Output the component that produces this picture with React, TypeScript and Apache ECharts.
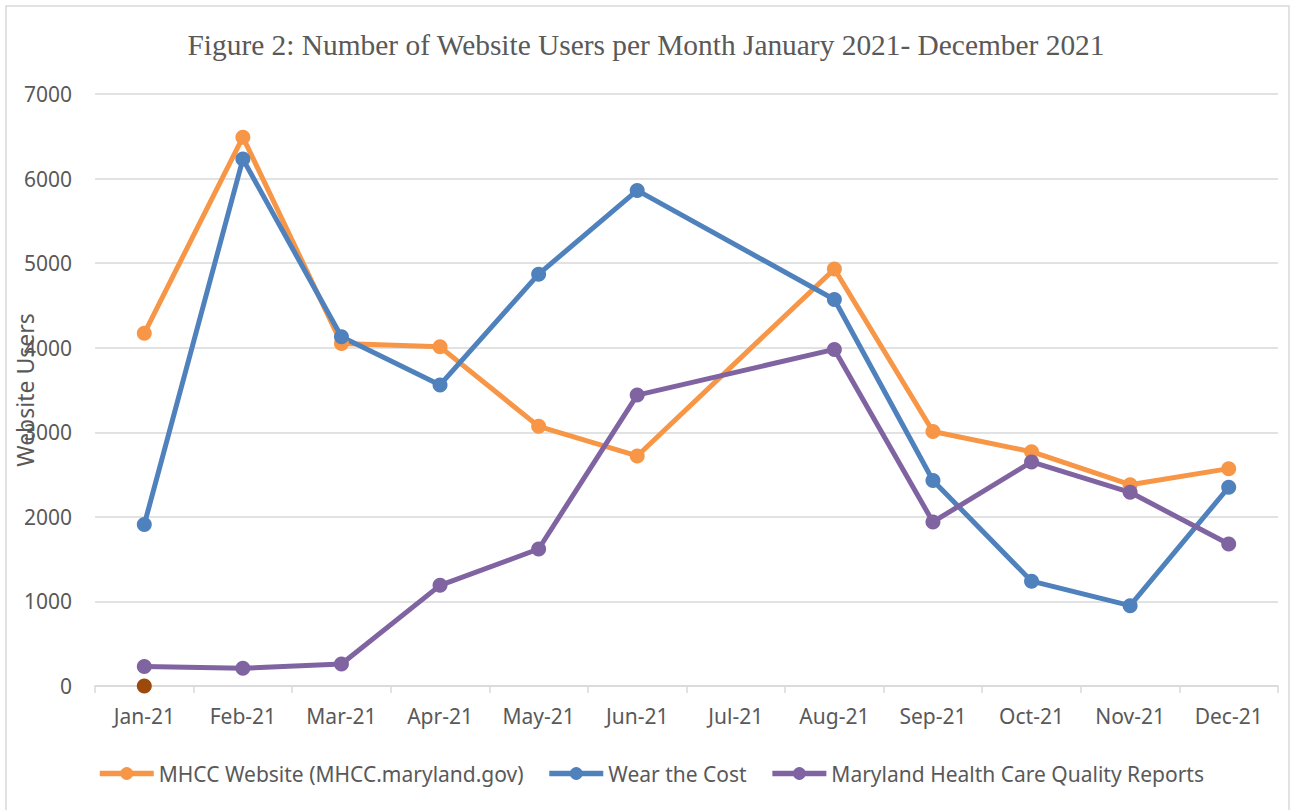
import React, { useEffect, useRef } from "react";
import * as echarts from "echarts";

const categories = ["Jan-21", "Feb-21", "Mar-21", "Apr-21", "May-21", "Jun-21", "Jul-21", "Aug-21", "Sep-21", "Oct-21", "Nov-21", "Dec-21"];
const mhccWebsite = [4170, 6490, 4050, 4010, 3070, 2720, null, 4930, 3010, 2770, 2380, 2570];
const wearTheCost = [1910, 6230, 4130, 3560, 4870, 5860, null, 4570, 2430, 1240, 950, 2350];
const qualityReports = [230, 210, 260, 1190, 1620, 3440, null, 3980, 1940, 2650, 2290, 1680];
const series4 = [0, null, null, null, null, null, null, null, null, null, null, null];
const yTicks = { min: 0, max: 7000, interval: 1000 };

const titleText = "Figure 2: Number of Website Users per Month January 2021- December 2021";
const names = ["MHCC Website (MHCC.maryland.gov)", "Wear the Cost", "Maryland Health Care Quality Reports"];
const colors = ["#F79646", "#4F81BD", "#8064A2"];

const FONT = "Noto Sans";
const GREY = "#595959";

export default function App() {
  const ref = useRef<HTMLDivElement>(null);
  useEffect(() => {
    if (!ref.current) return;
    const chart = echarts.init(ref.current, null, { renderer: "svg" });
    const mk = (name: string, data: (number | null)[], color: string) => ({
      name,
      type: "line",
      data,
      connectNulls: true,
      symbol: "circle",
      symbolSize: 15,
      lineStyle: { color, width: 5 },
      itemStyle: { color },
      emphasis: { disabled: true },
    });
    chart.setOption({
      animation: false,
      backgroundColor: "#ffffff",
      textStyle: { fontFamily: FONT },
      title: {
        text: titleText,
        left: "center",
        top: 25,
        textStyle: { fontFamily: "Liberation Serif", fontSize: 29.4, fontWeight: "normal", color: GREY },
      },
      graphic: [
        {
          type: "rect",
          shape: { x: 6, y: 6, width: 1283, height: 830 },
          style: { fill: "none", stroke: "#d9d9d9", lineWidth: 1.5 },
          silent: true,
        },
      ],
      grid: { left: 95, right: 14, top: 94, bottom: 124, containLabel: false, outerBoundsMode: "none" },
      legend: {
        data: names,
        bottom: 26,
        left: 97,
        padding: 0,
        itemWidth: 54,
        itemHeight: 16,
        itemGap: 23,
        lineStyle: { width: 5.5 },
        textStyle: { fontFamily: FONT, fontSize: 21, color: GREY },
      },
      xAxis: {
        type: "category",
        data: categories,
        boundaryGap: true,
        axisLine: { lineStyle: { color: "#d9d9d9", width: 1.5 } },
        axisTick: { show: true, length: 7, lineStyle: { color: "#d9d9d9", width: 1.5 } },
        axisLabel: { fontFamily: FONT, fontSize: 21, color: GREY, margin: 19 },
      },
      yAxis: {
        type: "value",
        min: yTicks.min,
        max: yTicks.max,
        interval: yTicks.interval,
        name: "Website Users",
        nameLocation: "middle",
        nameGap: 59,
        nameMoveOverlap: false,
        nameTextStyle: { fontFamily: FONT, fontSize: 23, color: GREY },
        axisLine: { show: false },
        axisTick: { show: false },
        axisLabel: { fontFamily: FONT, fontSize: 21, color: GREY, margin: 23, formatter: (v: number) => String(v) },
        splitLine: { lineStyle: { color: "#d9d9d9", width: 1.5 } },
      },
      series: [
        mk(names[0], mhccWebsite, colors[0]),
        mk(names[1], wearTheCost, colors[1]),
        mk(names[2], qualityReports, colors[2]),
        {
          name: "Series4",
          type: "line",
          data: series4,
          symbol: "circle",
          symbolSize: 15,
          itemStyle: { color: "#9C4A0B" },
          lineStyle: { width: 0 },
        },
      ],
    });
    return () => chart.dispose();
  }, []);
  return <div ref={ref} style={{ position: "absolute", left: 0, top: 0, width: 1292, height: 810 }} />;
}
